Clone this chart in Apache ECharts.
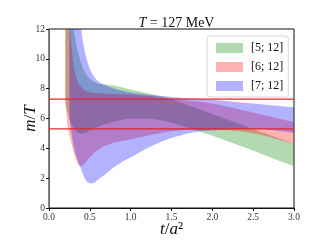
<!DOCTYPE html>
<html><head><meta charset="utf-8">
<script src="https://cdn.jsdelivr.net/npm/echarts@6/dist/echarts.min.js"></script>
<style>html,body{margin:0;padding:0;background:#fff}#c{width:327px;height:245px}</style>
</head><body><div id="c"></div>
<script>
// [5;12] band
const xG  = [0.2,0.25,0.3,0.35,0.4,0.45,0.5,0.6,0.7,0.8,1.0,1.2,1.4,1.6,1.8,2.0,2.2,2.5,2.8,3.0];
const loG = [7.0,6.0,5.4,5.05,5.0,5.05,5.2,5.45,5.65,5.8,6.0,6.0,5.85,5.55,5.2,4.85,4.45,3.85,3.2,2.8];
const hiG = [15,13.5,12.0,10.6,9.6,9.0,8.65,8.35,8.28,8.2,7.95,7.7,7.45,7.1,6.7,6.3,5.9,5.3,4.7,4.3];
// [6;12] band
const xR  = [0.2,0.22,0.25,0.3,0.35,0.38,0.42,0.5,0.6,0.75,1.0,1.3,1.6,2.0,2.5,3.0];
const loR = [7.2,5.9,4.9,3.8,3.0,2.8,2.9,3.4,3.9,4.3,4.6,4.95,5.2,5.25,5.0,4.3];
const hiR = [15,13.5,12.3,9.6,8.5,8.2,7.95,7.75,7.7,7.65,7.6,7.45,7.25,7.0,6.4,5.75];
// [7;12] band
const xB  = [0.25,0.3,0.35,0.38,0.42,0.46,0.51,0.56,0.6,0.7,0.8,0.9,1.0,1.2,1.4,1.6,1.8,2.0,2.5,3.0];
const loB = [6.0,4.2,3.2,2.8,2.2,1.8,1.65,1.72,1.9,2.3,2.75,3.1,3.4,4.0,4.5,4.85,5.1,5.2,5.3,5.05];
const hiB = [16,15,13.5,12.5,11.0,10.0,9.2,8.75,8.5,8.2,8.0,7.85,7.75,7.6,7.5,7.4,7.32,7.25,7.0,6.75];
// horizontal reference lines
const hLines = [7.3, 5.3];
const names = ['[5; 12]','[6; 12]','[7; 12]'];

const SERIF = '"Liberation Serif","DejaVu Serif",serif';

// smooth a pixel polyline (monotone cubic Hermite in x) for drawing only
function smoothPts(pts) {
  const n = pts.length, out = [];
  if (n < 3) return pts.slice();
  const d = [], m = [];
  for (let i = 0; i < n - 1; i++) d.push((pts[i+1][1]-pts[i][1])/(pts[i+1][0]-pts[i][0]));
  m[0] = d[0]; m[n-1] = d[n-2];
  for (let i = 1; i < n - 1; i++) m[i] = (d[i-1]*d[i] <= 0) ? 0 : (d[i-1]+d[i])/2;
  for (let i = 0; i < n - 1; i++) {
    if (d[i] === 0) { m[i] = 0; m[i+1] = 0; continue; }
    const a = m[i]/d[i], b = m[i+1]/d[i], s = a*a + b*b;
    if (s > 9) { const t = 3/Math.sqrt(s); m[i] = t*a*d[i]; m[i+1] = t*b*d[i]; }
  }
  for (let i = 0; i < n - 1; i++) {
    const x0 = pts[i][0], x1 = pts[i+1][0], h = x1 - x0, y0 = pts[i][1], y1 = pts[i+1][1];
    const N = 10;
    for (let k = 0; k < N; k++) {
      const t = k / N, t2 = t*t, t3 = t2*t;
      const y = (2*t3-3*t2+1)*y0 + (t3-2*t2+t)*h*m[i] + (-2*t3+3*t2)*y1 + (t3-t2)*h*m[i+1];
      out.push([x0 + t*h, y]);
    }
  }
  out.push(pts[n-1]);
  return out;
}

function band(name, xs, lo, hi, color) {
  return {
    type:'custom', name:name, silent:true, clip:true,
    itemStyle:{color:color},
    data: xs.map((x,i)=>[x, lo[i], hi[i]]),
    encode:{x:0, y:[1,2]},
    renderItem: function (params, api) {
      if (params.dataIndex !== 0) return null;
      const top = smoothPts(xs.map((x,i)=>api.coord([x, hi[i]])));
      const bot = smoothPts(xs.map((x,i)=>api.coord([x, lo[i]]))).reverse();
      const cs = params.coordSys;
      return { type:'polygon', shape:{ points: top.concat(bot) },
        style:{ fill: color },
        clipPath:{ type:'rect', shape:{ x:cs.x, y:cs.y, width:cs.width, height:cs.height } } };
    }
  };
}
const series = [
  band(names[0], xG, loG, hiG, 'rgba(0,128,0,0.3)'),
  band(names[1], xR, loR, hiR, 'rgba(255,0,0,0.3)'),
  band(names[2], xB, loB, hiB, 'rgba(0,0,255,0.3)')
];
hLines.forEach((v,k)=>series.push({type:'line', name:'h'+k, silent:true, symbol:'none',
  lineStyle:{color:'#e5262a', width:1.3}, data:[[0,v],[3,v]], z:5}));

const chart = echarts.init(document.getElementById('c'), null, {renderer:'canvas'});
chart.setOption({
  animation:false,
  title:{ text:'{i|T} = 127 MeV', left:171.5, textAlign:'center', top:11,
    textStyle:{ fontFamily:SERIF, fontSize:14, fontWeight:'normal', color:'#111',
      rich:{ i:{fontFamily:SERIF, fontSize:14, fontStyle:'italic', color:'#111'} } } },
  grid:{ left:49, right:33, top:29, bottom:37, show:true, borderColor:'#111', borderWidth:1 },
  legend:{ data:names, orient:'vertical', left:207, top:36, icon:'rect',
    itemWidth:27, itemHeight:10, itemGap:7, padding:[6,5,5,9],
    borderColor:'#d6d6d6', borderWidth:1, borderRadius:3, backgroundColor:'rgba(255,255,255,0.8)',
    formatter: n=>' '+n, selectedMode:false,
    textStyle:{ fontFamily:SERIF, fontSize:12, color:'#111' } },
  xAxis:{ type:'value', min:0, max:3, interval:0.5,
    name:'{i|t}/{i|a}²', nameLocation:'middle', nameGap:13, nameMoveOverlap:false,
    nameTextStyle:{ fontFamily:SERIF, fontSize:17, color:'#111',
      rich:{ i:{fontFamily:SERIF, fontSize:17, fontStyle:'italic', color:'#111'} } },
    axisLine:{ lineStyle:{color:'#111', width:1} },
    axisTick:{ show:true, length:3, lineStyle:{color:'#111'} },
    axisLabel:{ fontFamily:SERIF, fontSize:9.5, color:'#333', margin:4, formatter:v=>v.toFixed(1) },
    splitLine:{show:false} },
  yAxis:{ type:'value', min:0, max:12, interval:2,
    name:'{i|m}/{i|T}', nameLocation:'middle', nameGap:10, nameRotate:90, nameMoveOverlap:false,
    nameTextStyle:{ fontFamily:SERIF, fontSize:17, color:'#111',
      rich:{ i:{fontFamily:SERIF, fontSize:17, fontStyle:'italic', color:'#111'} } },
    axisLine:{ lineStyle:{color:'#666', width:1} },
    axisTick:{ show:true, length:3, lineStyle:{color:'#111'} },
    axisLabel:{ fontFamily:SERIF, fontSize:9.5, color:'#333', margin:4 },
    splitLine:{show:false} },
  series: series
});
</script></body></html>
